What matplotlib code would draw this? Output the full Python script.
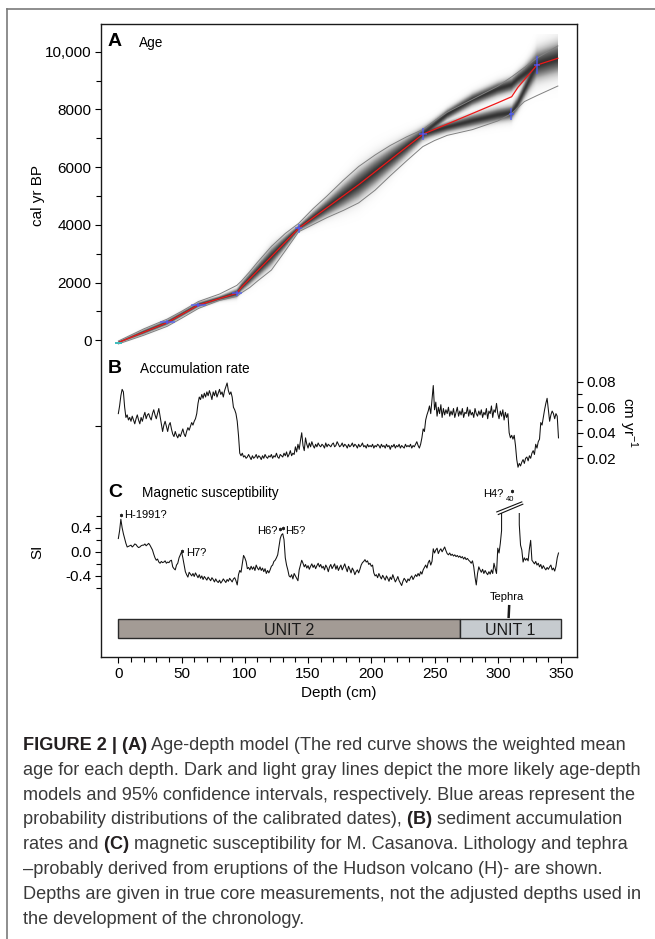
import matplotlib
matplotlib.use("Agg")
import matplotlib.pyplot as plt
import numpy as np
from matplotlib.lines import Line2D
from matplotlib.patches import Rectangle
from matplotlib.ticker import FixedLocator, FuncFormatter

plt.rcParams["font.family"] = ["Liberation Sans", "DejaVu Sans"]
plt.rcParams["mathtext.fontset"] = "custom"
plt.rcParams["mathtext.rm"] = "Liberation Sans"

# ---- data ----
# (A) age-depth model
mean_depth = [0, 38.6, 63.3, 93.7, 97.3, 120, 142.6, 190.4, 240.7, 260, 280, 300, 311, 316, 331, 347.5]
mean_age = [-80, 607, 1220, 1626, 1834, 2850, 3879, 5404, 7137, 7490, 7860, 8230, 8440, 8770, 9539, 9771]
# two dark branches of the model cloud (they split between ~245 and ~330 cm)
mode_hi_age = [-80, 607, 1220, 1626, 1834, 2850, 3879, 5404, 7137, 7820, 8330, 8700, 8850, 9050, 9539, 9771]
mode_lo_age = [-80, 607, 1220, 1626, 1834, 2850, 3879, 5404, 7137, 7380, 7600, 7800, 7880, 8200, 9539, 9771]

ci_depth = [0, 20, 38.6, 50, 63.3, 80, 93.7, 97.3, 104, 110, 121, 132, 142.6, 154, 165, 178, 190,
            203, 215, 228, 240.7, 250, 260, 280, 300, 311, 321, 331, 347.5]
ci_upper = [-30, 390, 730, 1000, 1340, 1600, 1900, 2050, 2380, 2700, 3250, 3700, 4050, 4560, 5000,
            5550, 6020, 6420, 6750, 7050, 7300, 7600, 7900, 8350, 8800, 9130, 9450, 9780, 10200]
ci_lower = [-130, 170, 480, 760, 1100, 1380, 1520, 1640, 1830, 2050, 2430, 3100, 3760, 4010, 4250,
            4500, 4760, 5200, 5700, 6220, 6710, 6920, 7100, 7300, 7600, 7860, 8270, 8480, 8810]

date_depth = [38.6, 63.3, 93.7, 142.6, 240.7, 310.5, 331]
date_age = [615, 1225, 1630, 3880, 7140, 7840, 9540]
date_age_err = [70, 80, 90, 150, 200, 220, 300]
date_depth_err = [6, 6, 4, 3, 3, 2, 2]
surface_depth = [0]
surface_age = [-80]

age_ticks = [0, 2000, 4000, 6000, 8000, 10000]

# (B) accumulation rate, one value per cm (0-348 cm)
acc_rate = [
    0.055, 0.061, 0.069, 0.074, 0.072, 0.060, 0.052, 0.054, 0.050, 0.052,
    0.049, 0.053, 0.050, 0.047, 0.051, 0.054, 0.050, 0.047, 0.052, 0.049,
    0.053, 0.056, 0.051, 0.054, 0.055, 0.052, 0.050, 0.055, 0.058, 0.054,
    0.051, 0.055, 0.059, 0.053, 0.047, 0.041, 0.046, 0.049, 0.045, 0.041,
    0.046, 0.048, 0.043, 0.039, 0.037, 0.041, 0.038, 0.036, 0.039, 0.037,
    0.040, 0.043, 0.039, 0.037, 0.041, 0.044, 0.042, 0.045, 0.048, 0.046,
    0.049, 0.051, 0.055, 0.063, 0.068, 0.066, 0.070, 0.067, 0.071, 0.068,
    0.072, 0.069, 0.073, 0.070, 0.066, 0.072, 0.069, 0.073, 0.068, 0.071,
    0.074, 0.070, 0.072, 0.068, 0.073, 0.076, 0.079, 0.073, 0.070, 0.072,
    0.068, 0.060, 0.058, 0.055, 0.049, 0.038, 0.024, 0.022, 0.024, 0.021,
    0.022, 0.020, 0.021, 0.023, 0.021, 0.019, 0.022, 0.020, 0.021, 0.023,
    0.020, 0.022, 0.021, 0.019, 0.022, 0.020, 0.023, 0.021, 0.020, 0.022,
    0.021, 0.023, 0.020, 0.022, 0.021, 0.024, 0.021, 0.020, 0.023, 0.022,
    0.021, 0.024, 0.022, 0.025, 0.021, 0.023, 0.026, 0.022, 0.024, 0.023,
    0.029, 0.025, 0.031, 0.027, 0.034, 0.040, 0.030, 0.026, 0.036, 0.031,
    0.028, 0.032, 0.029, 0.033, 0.030, 0.028, 0.031, 0.029, 0.032, 0.030,
    0.029, 0.031, 0.030, 0.028, 0.032, 0.029, 0.031, 0.030, 0.029, 0.031,
    0.032, 0.029, 0.030, 0.033, 0.031, 0.029, 0.030, 0.032, 0.029, 0.031,
    0.030, 0.028, 0.031, 0.029, 0.030, 0.032, 0.029, 0.031, 0.030, 0.028,
    0.031, 0.029, 0.030, 0.032, 0.029, 0.030, 0.028, 0.031, 0.029, 0.030,
    0.029, 0.031, 0.028, 0.030, 0.029, 0.031, 0.030, 0.028, 0.031, 0.029,
    0.030, 0.028, 0.031, 0.029, 0.030, 0.027, 0.030, 0.029, 0.031, 0.028,
    0.030, 0.029, 0.031, 0.028, 0.030, 0.029, 0.028, 0.031, 0.029, 0.030,
    0.029, 0.031, 0.028, 0.030, 0.029, 0.031, 0.033, 0.030, 0.028, 0.031,
    0.036, 0.043, 0.041, 0.050, 0.054, 0.057, 0.061, 0.055, 0.066, 0.077,
    0.058, 0.064, 0.053, 0.060, 0.055, 0.062, 0.052, 0.059, 0.054, 0.058,
    0.055, 0.060, 0.053, 0.057, 0.054, 0.059, 0.052, 0.056, 0.060, 0.053,
    0.057, 0.054, 0.059, 0.052, 0.056, 0.055, 0.060, 0.053, 0.058, 0.054,
    0.056, 0.052, 0.059, 0.055, 0.053, 0.057, 0.054, 0.058, 0.052, 0.056,
    0.054, 0.059, 0.051, 0.057, 0.055, 0.061, 0.052, 0.058, 0.056, 0.063,
    0.055, 0.051, 0.057, 0.053, 0.058, 0.050, 0.056, 0.052, 0.055, 0.040,
    0.036, 0.038, 0.035, 0.038, 0.030, 0.019, 0.013, 0.016, 0.014, 0.017,
    0.019, 0.016, 0.020, 0.021, 0.018, 0.022, 0.020, 0.024, 0.026, 0.023,
    0.031, 0.028, 0.033, 0.035, 0.048, 0.046, 0.052, 0.058, 0.063, 0.067,
    0.058, 0.049, 0.054, 0.057, 0.055, 0.051, 0.055, 0.053, 0.036,
]

# (C) magnetic susceptibility (SI), one value per cm; the H4 tephra peak reaches 40
mag_sus = [
    0.22, 0.35, 0.54, 0.40, 0.30, 0.22, 0.14, 0.08, 0.09, 0.10,
    0.11, 0.08, 0.10, 0.13, 0.12, 0.09, 0.07, 0.08, 0.10, 0.11,
    0.11, 0.13, 0.10, 0.12, 0.14, 0.11, 0.07, 0.03, -0.04, -0.10,
    -0.14, -0.12, -0.17, -0.19, -0.16, -0.18, -0.17, -0.15, -0.19, -0.17,
    -0.18, -0.15, -0.14, -0.25, -0.28, -0.30, -0.22, -0.19, -0.10, -0.05,
    0.00, -0.10, -0.22, -0.33, -0.38, -0.42, -0.34, -0.37, -0.40, -0.36,
    -0.41, -0.35, -0.39, -0.43, -0.38, -0.44, -0.40, -0.46, -0.41, -0.44,
    -0.47, -0.42, -0.45, -0.48, -0.43, -0.46, -0.50, -0.45, -0.49, -0.51,
    -0.47, -0.52, -0.49, -0.45, -0.48, -0.51, -0.46, -0.49, -0.44, -0.47,
    -0.50, -0.45, -0.43, -0.48, -0.55, -0.38, -0.31, -0.34, -0.20, -0.06,
    -0.10, -0.16, -0.28, -0.26, -0.30, -0.24, -0.29, -0.25, -0.31, -0.22,
    -0.27, -0.30, -0.25, -0.31, -0.27, -0.33, -0.28, -0.36, -0.31, -0.35,
    -0.30, -0.24, -0.22, -0.16, -0.14, -0.10, -0.05, 0.08, 0.22, 0.28,
    0.30, 0.20, -0.10, -0.22, -0.30, -0.40, -0.42, -0.38, -0.45, -0.36,
    -0.40, -0.44, -0.48, -0.30, -0.22, -0.14, -0.19, -0.25, -0.21, -0.27,
    -0.23, -0.29, -0.24, -0.20, -0.26, -0.22, -0.28, -0.23, -0.19, -0.25,
    -0.21, -0.27, -0.24, -0.30, -0.22, -0.26, -0.33, -0.25, -0.21, -0.28,
    -0.24, -0.20, -0.29, -0.23, -0.31, -0.26, -0.22, -0.30, -0.25, -0.20,
    -0.27, -0.33, -0.24, -0.29, -0.35, -0.27, -0.31, -0.38, -0.33, -0.30,
    -0.35, -0.29, -0.22, -0.18, -0.16, -0.13, -0.17, -0.15, -0.21, -0.19,
    -0.24, -0.22, -0.35, -0.40, -0.38, -0.43, -0.36, -0.41, -0.45, -0.39,
    -0.43, -0.47, -0.40, -0.44, -0.49, -0.42, -0.46, -0.38, -0.44, -0.50,
    -0.46, -0.41, -0.48, -0.52, -0.56, -0.49, -0.44, -0.47, -0.51, -0.45,
    -0.48, -0.43, -0.40, -0.46, -0.42, -0.38, -0.41, -0.36, -0.40, -0.33,
    -0.37, -0.30, -0.26, -0.22, -0.27, -0.18, -0.14, -0.22, -0.16, 0.05,
    -0.02, 0.03, 0.06, -0.03, 0.02, 0.05, 0.00, 0.04, 0.08, 0.02,
    -0.03, -0.05, -0.02, -0.06, -0.04, -0.07, -0.05, -0.08, -0.06, -0.09,
    -0.07, -0.10, -0.08, -0.12, -0.09, -0.13, -0.11, -0.14, -0.16, -0.19,
    -0.15, -0.25, -0.42, -0.55, -0.36, -0.25, -0.30, -0.34, -0.29, -0.36,
    -0.31, -0.35, -0.38, -0.33, -0.37, -0.30, -0.36, -0.19, -0.28, -0.36,
    0.06, -0.02, 0.14, 0.35, 40, 40, 40, 40, 40, 40,
    40, 40, 40, 40, 40, 40, 40, 0.45, 0.11, 0.03,
    -0.17, -0.10, -0.14, -0.11, -0.15, 0.05, 0.19, -0.14, -0.17, -0.20,
    -0.16, -0.22, -0.19, -0.25, -0.21, -0.28, -0.23, -0.27, -0.30, -0.26,
    -0.29, -0.25, -0.22, -0.30, -0.27, -0.32, -0.24, -0.10, -0.02,
]
si_ticks = [-0.4, 0.0, 0.4]

unit_names = ["UNIT 2", "UNIT 1"]
unit_top = [0, 270]
unit_bottom = [270, 350]
unit_colors = ["#a39b95", "#c6cbcf"]
tephra_depth = 309

depth_ticks = [0, 50, 100, 150, 200, 250, 300, 350]

# ---- layout (pixel coordinates of the 655x939 image) ----
W, H, DPI = 655, 939, 100
BOX = (101.0, 24.3, 576.7, 657.3)  # left, top, right, bottom of the frame
XLIM = (-13.7, 362.4)

fig = plt.figure(figsize=(W / DPI, H / DPI), dpi=DPI)


def px_axes(left, top, right, bottom):
    return fig.add_axes([left / W, 1 - bottom / H, (right - left) / W, (bottom - top) / H])


def ftext(x, y, s, **kw):
    return fig.text(x / W, 1 - y / H, s, **kw)


def overlay(top, bottom, ref_a, ref_b):
    """Transparent axes sharing the frame's x range, y scaled from two reference ticks."""
    ax = px_axes(BOX[0], top, BOX[2], bottom)
    (pa, va), (pb, vb) = ref_a, ref_b
    k = (vb - va) / (pb - pa)
    ax.set_xlim(*XLIM)
    ax.set_ylim(va + (bottom - pa) * k, va + (top - pa) * k)
    ax.patch.set_visible(False)
    for sp in ax.spines.values():
        sp.set_visible(False)
    ax.xaxis.set_visible(False)
    ax.tick_params(axis="y", which="both", direction="out", width=0.8, labelsize=11, pad=2.4)
    ax.tick_params(axis="y", which="major", length=4.3)
    ax.tick_params(axis="y", which="minor", length=3.8)
    return ax


# outer frame of the figure panel
fig.add_artist(Line2D([7.3 / W, 7.3 / W], [1 - 9 / H, 0], transform=fig.transFigure,
                      color="#7a7a7a", lw=1.2))
fig.add_artist(Line2D([7.3 / W, 1], [1 - 9 / H, 1 - 9 / H], transform=fig.transFigure,
                      color="#7a7a7a", lw=1.2))

# main frame with depth axis; y in image pixels
main = px_axes(*BOX)
main.set_xlim(*XLIM)
main.set_ylim(BOX[3], BOX[1])
for sp in main.spines.values():
    sp.set_linewidth(1.0)
    sp.set_color("#1a1a1a")
main.set_xticks(depth_ticks)
main.set_xticklabels([str(t) for t in depth_ticks])
main.xaxis.set_minor_locator(FixedLocator(range(0, 351, 10)))
main.tick_params(axis="x", which="major", direction="out", length=4.2, width=0.8, pad=3.0, labelsize=11)
main.tick_params(axis="x", which="minor", direction="out", length=3.6, width=0.8)
main.set_yticks([426])
main.set_yticklabels([])
main.tick_params(axis="y", direction="out", length=4.3, width=0.8)

# lithology bar and tephra mark
for name, d0, d1, col in zip(unit_names, unit_top, unit_bottom, unit_colors):
    main.add_patch(Rectangle((d0, 619.3), d1 - d0, 19.0, facecolor=col, edgecolor="#2a2a2a", lw=1.0))
    main.text((d0 + d1) / 2, 634.6, name, ha="center", va="baseline", fontsize=11.5, color="#1a1a1a")
main.text(tephra_depth - 1.6, 600, "Tephra", ha="center", va="baseline", fontsize=8)
main.plot([tephra_depth, tephra_depth - 0.4], [606.2, 616.8], color="#1a1a1a", lw=1.8)

# ---- (A) age-depth model ----
ax_a = overlay(BOX[1], 357, (51.7, 10000), (340.2, 0))
dd = np.linspace(0, mean_depth[-1], 700)
aa = np.linspace(-600, 10600, 1200)[:, None]
up = np.interp(dd, ci_depth, ci_upper)
lo = np.interp(dd, ci_depth, ci_lower)
m_hi = np.interp(dd, mean_depth, mode_hi_age)
m_lo = np.interp(dd, mean_depth, mode_lo_age)
width = up - lo
sig = (width / 3.4) / (1 + 1.3 * np.abs(m_hi - m_lo) / width)
cloud = np.maximum(np.exp(-0.5 * ((aa - m_hi) / sig) ** 2), np.exp(-0.5 * ((aa - m_lo) / sig) ** 2))
ax_a.imshow(cloud, extent=(0, mean_depth[-1], -600, 10600), origin="lower", aspect="auto",
            cmap="Greys", vmin=0, vmax=1.2, interpolation="bilinear", zorder=1)
ax_a.plot(ci_depth, ci_upper, color="#808080", lw=0.7, zorder=2)
ax_a.plot(ci_depth, ci_lower, color="#808080", lw=0.7, zorder=2)
ax_a.plot(mean_depth, mean_age, color="#f01818", lw=0.9, zorder=3)
ax_a.errorbar(date_depth, date_age, xerr=date_depth_err, yerr=date_age_err, fmt="none",
              ecolor="#4d5cff", elinewidth=1.2, alpha=0.75, capsize=0, zorder=4)
ax_a.errorbar(surface_depth, surface_age, xerr=3, fmt="none", ecolor="#3fbcbc",
              elinewidth=1.4, capsize=0, zorder=4)
ax_a.set_yticks(age_ticks)
ax_a.yaxis.set_major_formatter(FuncFormatter(lambda v, _: f"{v:,.0f}" if v >= 10000 else f"{v:.0f}"))
ax_a.yaxis.set_minor_locator(FixedLocator([1000, 3000, 5000, 7000, 9000]))

# ---- (B) accumulation rate ----
ax_b = overlay(360, 480, (381.7, 0.08), (458.3, 0.02))
ax_b.plot(range(len(acc_rate)), acc_rate, color="#111111", lw=0.75)
ax_b.yaxis.tick_right()
ax_b.set_yticks([0.02, 0.04, 0.06, 0.08])
ax_b.yaxis.set_major_formatter(FuncFormatter(lambda v, _: f"{v:.2f}"))
ax_b.yaxis.set_minor_locator(FixedLocator([0.03, 0.05, 0.07]))

# ---- (C) magnetic susceptibility ----
ax_c = overlay(513.3, 600, (527.7, 0.4), (575.9, -0.4))
ax_c.plot(range(len(mag_sus)), mag_sus, color="#111111", lw=0.75)
ax_c.set_yticks(si_ticks)
ax_c.yaxis.set_major_formatter(FuncFormatter(lambda v, _: f"{v:.1f}"))
ax_c.yaxis.set_minor_locator(FixedLocator([-0.6, -0.2, 0.2, 0.6]))

star = dict(marker=(6, 2, 0), ms=2.4, mew=0.5, color="#222222", ls="none", clip_on=False)
ax_c.plot([2.2, 50.3, 127.7, 130.0, 311.0], [0.61, 0.01, 0.375, 0.40, 1.01], **star)
small = dict(fontsize=8, va="baseline", clip_on=False)
ax_c.text(4.7, 0.553, "H-1991?", ha="left", **small)
ax_c.text(53.5, -0.07, "H7?", ha="left", **small)
ax_c.text(125.7, 0.293, "H6?", ha="right", **small)
ax_c.text(132.0, 0.293, "H5?", ha="left", **small)
ax_c.text(296.3, 0.91, "H4?", ha="center", **small)
ax_c.text(309.7, 0.868, "40", ha="center", va="center", fontsize=5.5, clip_on=False)
ax_c.plot([299.2, 319.0], [0.662, 0.828], color="#111111", lw=0.8, clip_on=False)
ax_c.plot([300.4, 319.8], [0.619, 0.790], color="#111111", lw=0.8, clip_on=False)

# ---- panel titles and axis labels ----
for letter, title, base, tx in [("A", "Age", 46.5, 139), ("B", "Accumulation rate", 372.7, 139.5),
                                ("C", "Magnetic susceptibility", 497.3, 141.7)]:
    ftext(108, base, letter, fontsize=14, fontweight="bold", va="baseline")
    ftext(tx, base, title, fontsize=9.8, va="baseline")

ftext(37.6, 196, "cal yr BP", rotation=90, ha="center", va="center", fontsize=11)
ftext(37.6, 552, "SI", rotation=90, ha="center", va="center", fontsize=11)
ftext(628.3, 423, r"cm yr$^{\mathrm{-1}}$", rotation=270, ha="center", va="center", fontsize=11)
ftext((BOX[0] + BOX[2]) / 2, 697.5, "Depth (cm)", ha="center", va="baseline", fontsize=11)

# ---- caption ----
caption = [
    [("FIGURE 2 | (A)", True), (" Age-depth model (The red curve shows the weighted mean", False)],
    [("age for each depth. Dark and light gray lines depict the more likely age-depth", False)],
    [("models and 95% confidence intervals, respectively. Blue areas represent the", False)],
    [("probability distributions of the calibrated dates),", False), (" (B)", True),
     (" sediment accumulation", False)],
    [("rates and", False), (" (C)", True),
     (" magnetic susceptibility for M. Casanova. Lithology and tephra", False)],
    [("\u2013probably derived from eruptions of the Hudson volcano (H)- are shown.", False)],
    [("Depths are given in true core measurements, not the adjusted depths used in", False)],
    [("the development of the chronology.", False)],
]
renderer = fig.canvas.get_renderer()


def caption_line(parts, y, size, draw=True):
    x = 23.3
    made = []
    for s, bold in parts:
        t = ftext(x, y, s, fontsize=size, fontweight="bold" if bold else "normal",
                  color="#231f20" if bold else "#3a3a3a", va="baseline", ha="left")
        x += t.get_window_extent(renderer).width
        made.append(t)
    if not draw:
        for t in made:
            t.remove()
    return x


end = caption_line(caption[0], 0, 12, draw=False)
cap_size = 12 * (626.7 - 23.3) / (end - 23.3)
for i, parts in enumerate(caption):
    caption_line(parts, 750 + 24.8 * i, cap_size)

fig.savefig("out.png", dpi=DPI)
